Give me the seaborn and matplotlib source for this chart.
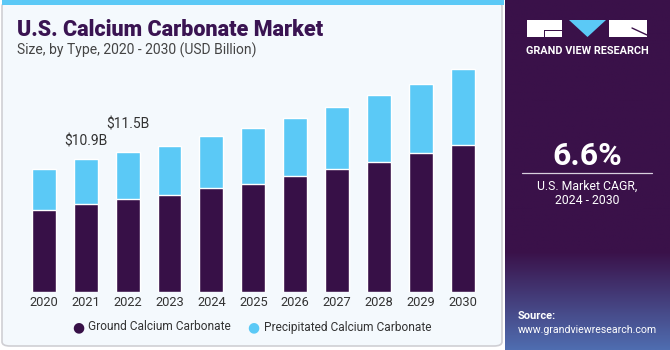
import numpy as np
import pandas as pd
import seaborn as sns
import matplotlib.pyplot as plt
from matplotlib.patches import FancyBboxPatch, Rectangle, Polygon

# values (USD billion)
years = ['2020', '2021', '2022', '2023', '2024', '2025', '2026', '2027', '2028', '2029', '2030']
ground = [6.7, 7.2, 7.6, 8.0, 8.5, 8.9, 9.5, 10.1, 10.7, 11.4, 12.1]
precipitated = [3.4, 3.7, 3.9, 4.0, 4.3, 4.6, 4.8, 5.1, 5.5, 5.7, 6.2]
labels = {'2021': '$10.9B', '2022': '$11.5B'}

purple = '#371047'
cyan = '#5BC9F6'
panel = '#3A1149'

df = pd.DataFrame({'year': years, 'ground': ground, 'precipitated': precipitated})
df['total'] = df['ground'] + df['precipitated']

sns.set_theme(style='white')
plt.rcParams['font.family'] = ['Roboto', 'DejaVu Sans']

fig = plt.figure(figsize=(6.7, 3.5), dpi=100)
fig.patch.set_facecolor('white')
tf = fig.transFigure


def fx(px):
    return px / 670


def fy(py):
    return 1 - py / 350


# left card background + border
bg = FancyBboxPatch((fx(2), fy(346)), fx(500), 344 / 350,
                    boxstyle='round,pad=0,rounding_size=0.012',
                    transform=tf, facecolor='#F4F9FD',
                    edgecolor='#CFCFD4', linewidth=1.2, zorder=-2)
fig.patches.append(bg)
fig.patches.append(Rectangle((fx(2), fy(5)), fx(502), 5 / 350, transform=tf,
                             facecolor=cyan, edgecolor='none', zorder=-1))

# right panel
pax = fig.add_axes([fx(505), 0, fx(165), 1], zorder=-1)
grad = np.linspace(0, 1, 256)
grad = np.clip((grad - 0.72) / 0.28, 0, 1)
c0 = np.array([0x3A, 0x11, 0x49]) / 255
c1 = np.array([0x4F, 0x6D, 0xB0]) / 255
img = c0[None, :] * (1 - grad[:, None]) + c1[None, :] * grad[:, None]
pax.imshow(img[:, None, :], aspect='auto', extent=[0, 1, 0, 1], origin='upper')
pax.set_xlim(0, 1)
pax.set_ylim(0, 1)
pax.axis('off')

# logo
fig.patches.append(Rectangle((fx(527), fy(37)), fx(35), 17 / 350, transform=tf,
                             facecolor='white', edgecolor='none', zorder=3))
fig.patches.append(Rectangle((fx(544), fy(31)), fx(18), 1.2 / 350, transform=tf,
                             facecolor=panel, edgecolor='none', zorder=4))
fig.patches.append(Rectangle((fx(544), fy(37)), fx(1.2), 6 / 350, transform=tf,
                             facecolor=panel, edgecolor='none', zorder=4))
fig.patches.append(Polygon([(fx(569), fy(20)), (fx(606), fy(20)), (fx(587.5), fy(37))],
                           closed=True, transform=tf, facecolor=cyan,
                           edgecolor='none', zorder=3))
fig.patches.append(Rectangle((fx(609), fy(37)), fx(38), 17 / 350, transform=tf,
                             facecolor='white', edgecolor='none', zorder=3))
fig.lines.append(plt.Line2D([fx(632), fx(647)], [fy(28), fy(35)], transform=tf,
                            color=panel, linewidth=1, zorder=4))
fig.text(fx(587.5), fy(51), 'GRAND VIEW RESEARCH', ha='center', va='center',
         color='white', fontsize=7.8, fontweight='bold')

fig.text(fx(587.5), fy(156), '6.6%', ha='center', va='center', color='white',
         fontsize=23, fontweight='bold')
fig.lines.append(plt.Line2D([fx(522), fx(652)], [fy(173), fy(173)], transform=tf,
                            color='#D8D0DE', linewidth=0.9))
fig.text(fx(587.5), fy(186), 'U.S. Market CAGR,', ha='center', va='center',
         color='white', fontsize=8.8)
fig.text(fx(587.5), fy(201), '2024 - 2030', ha='center', va='center',
         color='white', fontsize=8.8)
fig.text(fx(518), fy(316), 'Source:', ha='left', va='center', color='white',
         fontsize=8, fontweight='bold')
fig.text(fx(518), fy(330), 'www.grandviewresearch.com', ha='left', va='center',
         color='white', fontsize=7.6)

# titles
fig.text(fx(17), fy(30), 'U.S. Calcium Carbonate Market', ha='left', va='center',
         color='#3A1452', fontsize=15.5, fontweight='black')
fig.text(fx(17), fy(50), 'Size, by Type, 2020 - 2030 (USD Billion)', ha='left',
         va='center', color='#444444', fontsize=10)

# bar chart
ax = fig.add_axes([fx(18.6), fy(292), fx(469.4), 243.6 / 350])
ax.set_facecolor('none')
sns.barplot(data=df, x='year', y='total', color=cyan, saturation=1, width=0.57,
            ax=ax, zorder=2)
sns.barplot(data=df, x='year', y='ground', color=purple, saturation=1, width=0.57,
            ax=ax, zorder=3)
ax.set_xlim(-0.6, len(years) - 0.4)
ax.set_ylim(0, 20)
# labels are staggered in the reference so they don't collide
offsets = [8, 14.5]
k = 0
for i, y in enumerate(years):
    if y in labels:
        ax.annotate(labels[y], (i, df['total'][i]), xytext=(0, offsets[k]),
                    textcoords='offset points', ha='center', va='bottom',
                    fontsize=10, color='#333333')
        k += 1
ax.set_xlabel('')
ax.set_ylabel('')
ax.set_yticks([])
ax.tick_params(axis='x', length=0, pad=3, labelsize=9.3, labelcolor='#333333')
for s in ax.spines.values():
    s.set_visible(False)

# legend
fig.text(fx(78), fy(327), '\u25CF', ha='center', va='center', color=purple, fontsize=10,
         family='DejaVu Sans')
fig.text(fx(88), fy(327), 'Ground Calcium Carbonate', ha='left', va='center',
         color='#333333', fontsize=8.6)
fig.text(fx(253), fy(327), '\u25CF', ha='center', va='center', color=cyan, fontsize=10,
         family='DejaVu Sans')
fig.text(fx(264), fy(327), 'Precipitated Calcium Carbonate', ha='left', va='center',
         color='#333333', fontsize=8.6)

fig.savefig('out.png', dpi=100)
